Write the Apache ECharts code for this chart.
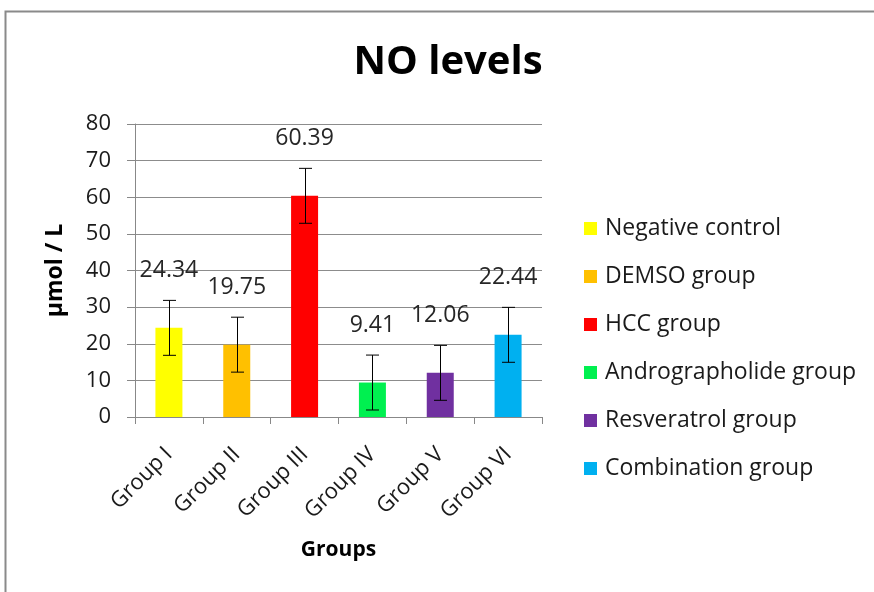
<!DOCTYPE html>
<html><head><meta charset="utf-8">
<script src="https://cdn.jsdelivr.net/npm/echarts@6/dist/echarts.min.js"></script>
<style>html,body{margin:0;padding:0;background:#fff}#c{width:874px;height:592px}</style>
</head><body><div id="c"></div>
<script>
const categories = ['Group I','Group II','Group III','Group IV','Group V','Group VI'];
const seriesNames = ['Negative control','DEMSO group','HCC group','Andrographolide group','Resveratrol group','Combination group'];
const values = [24.34, 19.75, 60.39, 9.41, 12.06, 22.44];
const errors = [7.5, 7.5, 7.5, 7.5, 7.5, 7.5];
const colors = ['#FFFF00','#FFC000','#FF0000','#00F050','#7030A0','#00B0F0'];
const yTicks = {min: 0, max: 80, interval: 10};

const FONT = '"Open Sans", "Noto Sans", sans-serif';
const chart = echarts.init(document.getElementById('c'));

const barSeries = seriesNames.map((name, i) => ({
  name: name,
  type: 'bar',
  barWidth: 27,
  barGap: '-100%',
  itemStyle: {color: colors[i]},
  data: categories.map((c, j) => j === i ? values[i] : '-'),
  label: {
    show: true, position: 'top', distance: 46,
    fontFamily: FONT, fontSize: 23, color: '#262626',
    formatter: p => p.value.toFixed(2)
  }
}));

const errData = values.map((v, i) => [i, v - errors[i], v + errors[i]]);

const errSeries = {
  name: 'err', type: 'custom', z: 10,
  data: errData,
  encode: {x: 0, y: [1, 2]},
  renderItem: function (params, api) {
    const lo = api.coord([api.value(0), api.value(1)]);
    const hi = api.coord([api.value(0), api.value(2)]);
    const x = Math.round(lo[0]) + 0.5;
    const hw = 6.5;
    const st = {stroke: '#000', lineWidth: 1};
    return {type: 'group', children: [
      {type: 'line', shape: {x1: x, y1: hi[1], x2: x, y2: lo[1]}, style: st},
      {type: 'line', shape: {x1: x - hw, y1: hi[1], x2: x + hw, y2: hi[1]}, style: st},
      {type: 'line', shape: {x1: x - hw, y1: lo[1], x2: x + hw, y2: lo[1]}, style: st}
    ]};
  }
};

chart.setOption({
  animation: false,
  backgroundColor: '#fff',
  title: {
    text: 'NO levels', left: 443, top: 38, textAlign: 'center',
    textStyle: {fontFamily: FONT, fontSize: 40, fontWeight: 'bold', color: '#000'}
  },
  graphic: [{
    type: 'rect', shape: {x: 5.5, y: 11.5, width: 1000, height: 1000},
    style: {fill: 'none', stroke: '#8a8a8a', lineWidth: 2}, silent: true, z: -1
  }],
  legend: {
    data: seriesNames, orient: 'vertical', left: 579, top: 212,
    itemWidth: 13, itemHeight: 13, itemGap: 25, icon: 'rect',
    textStyle: {fontFamily: FONT, fontSize: 23, color: '#1a1a1a', padding: [0, 0, 0, 3]}
  },
  grid: {left: 135, right: 332, top: 124, bottom: 175},
  xAxis: {
    type: 'category', data: categories,
    name: 'Groups', nameLocation: 'middle', nameGap: 123,
    nameTextStyle: {fontFamily: FONT, fontSize: 21, fontWeight: 'bold', color: '#000'},
    axisLine: {lineStyle: {color: '#888', width: 1}},
    axisTick: {show: true, length: 7, lineStyle: {color: '#888'}},
    axisLabel: {rotate: 45, fontFamily: FONT, fontSize: 22, color: '#1a1a1a', margin: 34}
  },
  yAxis: {
    type: 'value', min: yTicks.min, max: yTicks.max, interval: yTicks.interval,
    name: 'μmol / L', nameLocation: 'middle', nameRotate: 90, nameGap: 68,
    nameTextStyle: {fontFamily: FONT, fontSize: 23, fontWeight: 'bold', color: '#000'},
    axisLine: {show: true, lineStyle: {color: '#888', width: 1}},
    axisTick: {show: true, length: 8, lineStyle: {color: '#888'}},
    axisLabel: {fontFamily: FONT, fontSize: 22, color: '#1a1a1a', margin: 24},
    splitLine: {lineStyle: {color: '#8c8c8c', width: 1}}
  },
  series: barSeries.concat([errSeries])
});
</script></body></html>
